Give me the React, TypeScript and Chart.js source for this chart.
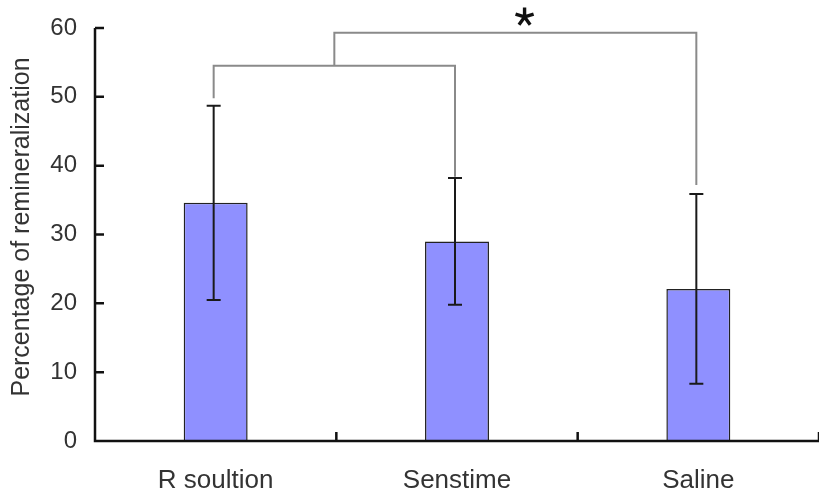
import React, { useEffect, useRef } from "react";
import { Chart, registerables } from "chart.js";

Chart.register(...registerables);

const categories = ["R soultion", "Senstime", "Saline"];
const means = [34.6, 29.0, 22.1];
const sds = [14.1, 9.2, 13.8];
const yMin = 0;
const yMax = 60;
const yStep = 10;
const yTitle = "Percentage of remineralization";

// significance brackets (x in category index units, y in data units)
const bracketFrom = [0, 0.5];
const bracketTo = [1, 2];
const bracketLevel = [54.5, 59.3];
const bracketLeftEnd = [49.8, 54.5];
const bracketRightEnd = [38.4, 37.2];
const starIndex = 1.28;
const starValue = 61.6;

const FONT = "'Liberation Sans', Arial, sans-serif";

const overlay = {
  id: "overlay",
  afterDraw(chart: any) {
    const ctx = chart.ctx as CanvasRenderingContext2D;
    const xs = chart.scales.x;
    const ys = chart.scales.y;
    const area = chart.chartArea;
    const meta = chart.getDatasetMeta(0);
    ctx.save();

    // error bars
    ctx.strokeStyle = "#1a1a1a";
    ctx.lineWidth = 2;
    means.forEach((m, i) => {
      const bx = meta.data[i].x - 2;
      const yt = ys.getPixelForValue(m + sds[i]);
      const yb = ys.getPixelForValue(m - sds[i]);
      ctx.beginPath();
      ctx.moveTo(bx, yt);
      ctx.lineTo(bx, yb);
      ctx.moveTo(bx - 7, yt);
      ctx.lineTo(bx + 7, yt);
      ctx.moveTo(bx - 7, yb);
      ctx.lineTo(bx + 7, yb);
      ctx.stroke();
    });

    // brackets
    ctx.strokeStyle = "#8a8a8a";
    ctx.lineWidth = 2;
    bracketFrom.forEach((f, k) => {
      const x1 = xs.getPixelForValue(f) - 2;
      const x2 = xs.getPixelForValue(bracketTo[k]) - 2;
      const yl = ys.getPixelForValue(bracketLevel[k]);
      ctx.beginPath();
      ctx.moveTo(x1, ys.getPixelForValue(bracketLeftEnd[k]));
      ctx.lineTo(x1, yl);
      ctx.lineTo(x2, yl);
      ctx.lineTo(x2, ys.getPixelForValue(bracketRightEnd[k]));
      ctx.stroke();
    });

    // star
    const sx = xs.getPixelForValue(starIndex);
    const sy = ys.getPixelForValue(starValue);
    ctx.strokeStyle = "#111";
    ctx.lineWidth = 3.4;
    ctx.lineCap = "butt";
    ctx.beginPath();
    for (let a = 0; a < 5; a++) {
      const ang = -Math.PI / 2 + (a * 2 * Math.PI) / 5;
      ctx.moveTo(sx, sy);
      ctx.lineTo(sx + Math.cos(ang) * 9.5, sy + Math.sin(ang) * 9.5);
    }
    ctx.stroke();

    // axes
    ctx.strokeStyle = "#111";
    ctx.lineWidth = 2.5;
    ctx.beginPath();
    ctx.moveTo(area.left, area.top);
    ctx.lineTo(area.left, area.bottom);
    ctx.lineTo(area.right, area.bottom);
    for (let v = yMin; v <= yMax; v += yStep) {
      const y = ys.getPixelForValue(v);
      ctx.moveTo(area.left, y);
      ctx.lineTo(area.left + 9, y);
    }
    for (let i = 0; i < categories.length; i++) {
      const x = xs.getPixelForValue(i + 0.5);
      ctx.moveTo(x, area.bottom);
      ctx.lineTo(x, area.bottom - 9);
    }
    ctx.stroke();

    // y title
    ctx.fillStyle = "#333";
    ctx.font = `25px ${FONT}`;
    ctx.textAlign = "center";
    ctx.textBaseline = "middle";
    ctx.translate(22, 227);
    ctx.rotate(-Math.PI / 2);
    ctx.fillText(yTitle, 0, 0);
    ctx.restore();
  },
};

export default function App() {
  const ref = useRef<HTMLCanvasElement | null>(null);
  useEffect(() => {
    if (!ref.current) return;
    const chart = new Chart(ref.current, {
      type: "bar",
      data: {
        labels: categories,
        datasets: [
          {
            data: means,
            backgroundColor: "#8f90ff",
            borderColor: "#222",
            borderWidth: 1.5,
            barPercentage: 0.265,
            categoryPercentage: 1,
          },
        ],
      },
      options: {
        responsive: false,
        animation: false,
        layout: { padding: { top: 28, right: 0, left: 0, bottom: 0 } },
        plugins: { legend: { display: false }, tooltip: { enabled: false } },
        scales: {
          x: {
            grid: { display: false, drawTicks: false },
            border: { display: false },
            ticks: { font: { family: FONT, size: 26 }, color: "#333", padding: 24 },
            afterFit: (s: any) => {
              s.height = 56;
              s.paddingLeft = 0;
              s.paddingRight = 0;
            },
          },
          y: {
            min: yMin,
            max: yMax,
            grid: { display: false, drawTicks: false },
            border: { display: false },
            ticks: { stepSize: yStep, font: { family: FONT, size: 24 }, color: "#333", padding: 18 },
            afterFit: (s: any) => {
              s.width = 95;
              s.paddingTop = 0;
              s.paddingBottom = 0;
            },
          },
        },
      },
      plugins: [overlay],
    });
    return () => chart.destroy();
  }, []);
  return (
    <div style={{ position: "absolute", left: 0, top: 0, width: 819, height: 497, background: "#fff" }}>
      <canvas ref={ref} width={819} height={497} style={{ display: "block" }} />
    </div>
  );
}
